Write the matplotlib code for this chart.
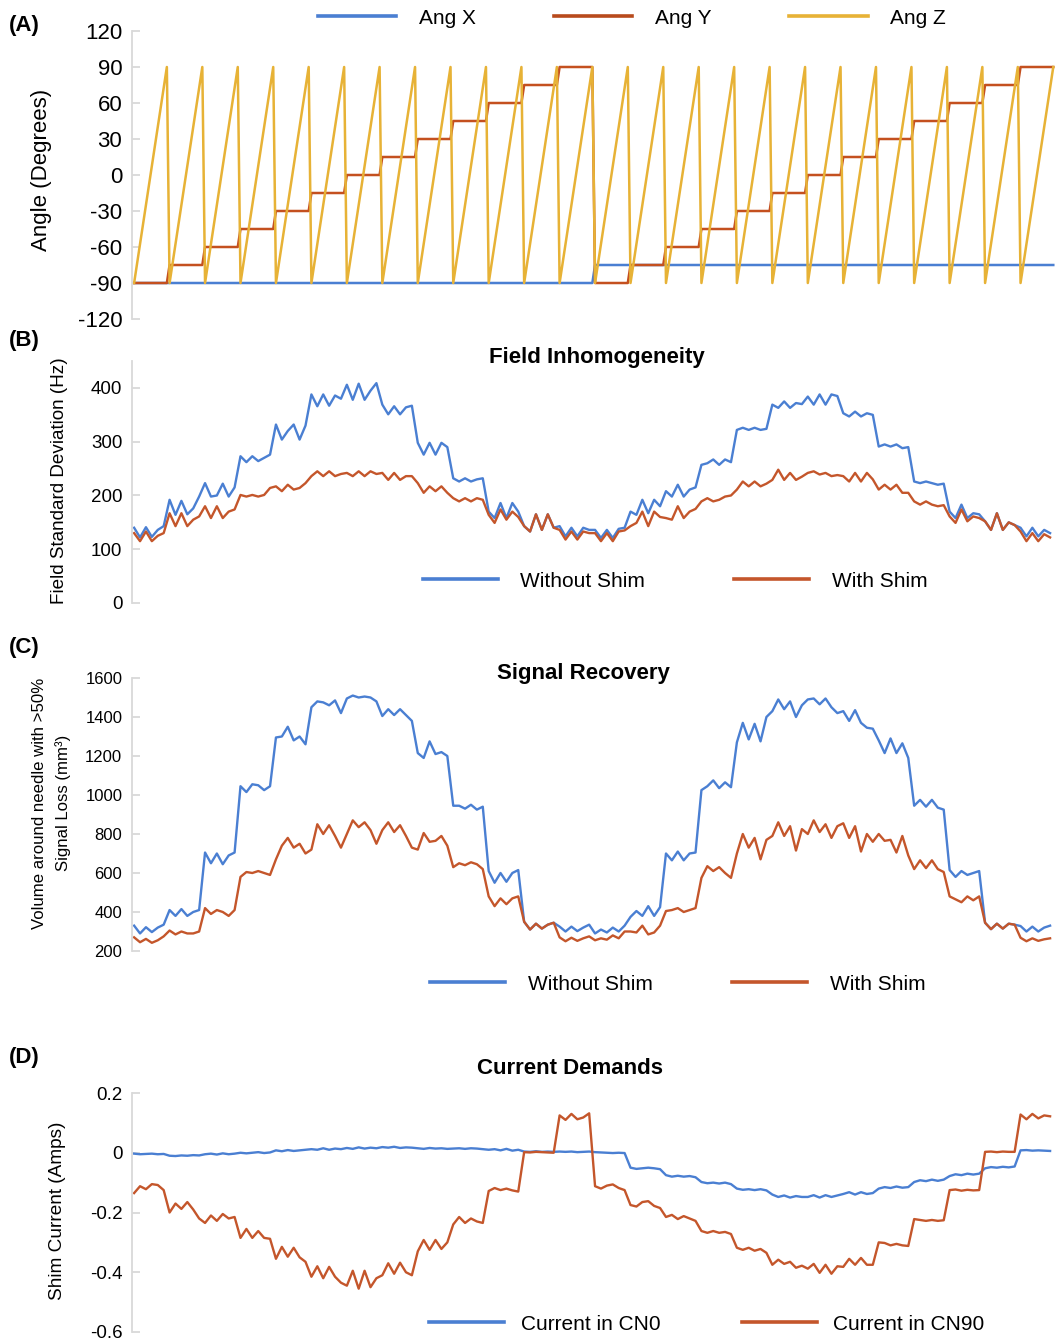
import matplotlib.pyplot as plt
import numpy as np
from matplotlib.lines import Line2D

plt.rcParams['font.family'] = ['Liberation Sans', 'DejaVu Sans']
plt.rcParams['axes.unicode_minus'] = False

W, H = 1056, 1340
BLUE = '#4a7fd2'
RED = '#c4562b'
YELLOW = '#e7b236'
GREY = '#d9d9d9'

# ---- panel A: rotation schedule ----
z_sweep = [-90, -75, -60, -45, -30, -15, 0, 15, 30, 45, 60, 75, 90]
y_levels = [-90, -75, -60, -45, -30, -15, 0, 15, 30, 45, 60, 75, 90,
            -90, -75, -60, -45, -30, -15, 0, 15, 30, 45, 60, 75, 90]
x_levels = [-90, -75]

# ---- panel B: field std (Hz), 6 readings per orientation step ----
field_without = [
    140, 122, 141, 123, 136, 143,  192, 164, 190, 165, 176, 198,
    223, 198, 200, 222, 198, 215,  273, 262, 273, 264, 270, 276,
    332, 304, 320, 332, 304, 330,  388, 366, 388, 367, 386, 380,
    406, 378, 408, 378, 395, 409,  369, 351, 366, 351, 364, 367,
    298, 276, 298, 276, 298, 290,  232, 226, 232, 226, 230, 232,
    170, 158, 186, 158, 186, 170,  143, 133, 165, 136, 165, 140,
    143, 124, 140, 124, 140, 136,  136, 121, 136, 121, 138, 140,
    170, 164, 192, 167, 192, 180,  208, 198, 220, 198, 211, 215,
    257, 260, 267, 257, 267, 262,  322, 326, 322, 326, 322, 324,
    369, 363, 375, 363, 372, 370,  384, 369, 388, 369, 388, 385,
    353, 347, 356, 347, 353, 350,  291, 295, 291, 295, 288, 290,
    226, 223, 226, 223, 220, 222,  170, 158, 183, 158, 167, 165,
    152, 136, 167, 136, 150, 145,  140, 124, 140, 124, 136, 130]
field_with = [
    130, 115, 133, 115, 125, 130,  167, 143, 167, 143, 155, 161,
    180, 158, 180, 158, 170, 174,  201, 198, 201, 198, 201, 214,
    217, 208, 220, 211, 214, 223,  236, 245, 236, 245, 236, 240,
    242, 236, 245, 236, 245, 240,  242, 229, 242, 229, 236, 236,
    223, 205, 217, 208, 217, 205,  195, 189, 195, 189, 195, 192,
    164, 149, 174, 155, 170, 160,  143, 133, 165, 136, 165, 140,
    136, 118, 133, 118, 133, 130,  130, 115, 130, 115, 133, 135,
    143, 149, 170, 143, 170, 160,  158, 155, 180, 158, 170, 175,
    189, 195, 189, 192, 198, 200,  211, 226, 217, 226, 217, 222,
    229, 248, 229, 242, 229, 235,  242, 245, 239, 242, 236, 238,
    236, 226, 242, 226, 242, 230,  211, 220, 211, 220, 205, 205,
    189, 183, 189, 183, 180, 182,  161, 149, 174, 152, 161, 158,
    152, 136, 167, 136, 150, 145,  133, 115, 130, 115, 128, 122]

# ---- panel C: signal loss volume (mm^3) ----
vol_without = [
    330, 290, 322, 297, 320, 335,  410, 380, 415, 380, 400, 410,
    705, 650, 700, 645, 690, 705,  1045, 1015, 1055, 1050, 1025, 1045,
    1295, 1300, 1350, 1280, 1300, 1260,  1450, 1480, 1475, 1460, 1485, 1420,
    1495, 1510, 1500, 1505, 1500, 1480,  1405, 1440, 1410, 1440, 1410, 1380,
    1215, 1190, 1275, 1210, 1220, 1200,  945, 945, 930, 950, 925, 940,
    610, 550, 600, 555, 600, 615,  350, 310, 340, 315, 335, 345,
    325, 300, 325, 302, 320, 335,  290, 310, 295, 320, 300, 330,
    375, 405, 380, 430, 380, 425,  700, 665, 710, 665, 700, 705,
    1025, 1045, 1075, 1035, 1065, 1040,  1270, 1370, 1285, 1365, 1275, 1400,
    1430, 1490, 1440, 1480, 1400, 1460,  1490, 1495, 1465, 1495, 1450, 1420,
    1430, 1380, 1435, 1370, 1345, 1340,  1280, 1215, 1290, 1215, 1265, 1190,
    945, 975, 940, 975, 935, 925,  615, 580, 610, 590, 600, 610,
    345, 312, 340, 315, 340, 335,  328, 300, 325, 300, 320, 330]
vol_with = [
    270, 245, 262, 242, 255, 275,  305, 285, 300, 290, 290, 300,
    420, 390, 410, 400, 380, 410,  580, 605, 600, 610, 600, 590,
    670, 740, 780, 730, 750, 700,  720, 850, 800, 845, 790, 730,
    800, 870, 835, 860, 820, 750,  820, 860, 810, 845, 790, 730,
    720, 805, 760, 765, 790, 740,  630, 650, 640, 655, 645, 620,
    480, 430, 470, 440, 470, 480,  350, 310, 340, 315, 335, 345,
    270, 250, 268, 252, 265, 275,  255, 265, 258, 280, 265, 300,
    300, 295, 330, 285, 295, 330,  405, 410, 420, 400, 410, 420,
    575, 635, 610, 630, 600, 575,  700, 800, 730, 780, 670, 770,
    790, 860, 790, 840, 715, 825,  800, 870, 810, 850, 780, 840,
    855, 780, 840, 710, 800, 760,  800, 765, 770, 705, 790, 690,
    620, 665, 625, 665, 620, 605,  480, 465, 450, 480, 460, 480,
    345, 312, 340, 315, 340, 335,  268, 250, 265, 252, 260, 265]

# ---- panel D: shim currents (A) ----
cur_cn0 = [
    -0.003, -0.005, -0.004, -0.003, -0.005, -0.004,  -0.010, -0.011, -0.009, -0.010, -0.008, -0.009,
    -0.005, -0.003, -0.006, -0.002, -0.005, -0.003,  0.000, -0.002, 0.000, 0.002, -0.001, 0.001,
    0.008, 0.005, 0.009, 0.006, 0.008, 0.010,  0.012, 0.010, 0.015, 0.010, 0.014, 0.012,
    0.016, 0.013, 0.018, 0.014, 0.017, 0.015,  0.019, 0.017, 0.020, 0.016, 0.018, 0.017,
    0.015, 0.013, 0.016, 0.014, 0.015, 0.013,  0.014, 0.015, 0.013, 0.015, 0.014, 0.012,
    0.010, 0.012, 0.008, 0.013, 0.007, 0.010,  0.004, 0.003, 0.005, 0.003, 0.004, 0.003,
    0.004, 0.003, 0.004, 0.002, 0.003, 0.004,  0.002, 0.001, 0.000, -0.001, 0.000, -0.001,
    -0.050, -0.054, -0.052, -0.050, -0.052, -0.055,  -0.075, -0.080, -0.077, -0.080, -0.078, -0.082,
    -0.098, -0.102, -0.100, -0.103, -0.100, -0.105,  -0.120, -0.124, -0.122, -0.125, -0.122, -0.126,
    -0.140, -0.148, -0.143, -0.150, -0.145, -0.148,  -0.148, -0.142, -0.150, -0.142, -0.148, -0.143,
    -0.138, -0.132, -0.140, -0.132, -0.138, -0.135,  -0.120, -0.115, -0.118, -0.113, -0.117, -0.115,
    -0.098, -0.092, -0.095, -0.090, -0.094, -0.090,  -0.078, -0.072, -0.075, -0.070, -0.073, -0.070,
    -0.052, -0.048, -0.050, -0.047, -0.049, -0.046,  0.008, 0.009, 0.007, 0.008, 0.007, 0.006]
cur_cn90 = [
    -0.135, -0.112, -0.122, -0.105, -0.108, -0.125,  -0.200, -0.170, -0.188, -0.165, -0.190, -0.220,
    -0.235, -0.210, -0.228, -0.205, -0.220, -0.215,  -0.285, -0.255, -0.285, -0.262, -0.285, -0.288,
    -0.355, -0.315, -0.348, -0.318, -0.350, -0.365,  -0.415, -0.380, -0.420, -0.382, -0.415, -0.435,
    -0.445, -0.395, -0.455, -0.395, -0.450, -0.420,  -0.410, -0.370, -0.405, -0.368, -0.400, -0.410,
    -0.330, -0.292, -0.325, -0.292, -0.322, -0.300,  -0.240, -0.215, -0.235, -0.220, -0.230, -0.235,
    -0.128, -0.118, -0.125, -0.120, -0.126, -0.130,  0.002, 0.001, 0.003, 0.002, 0.001, 0.000,
    0.125, 0.110, 0.130, 0.112, 0.118, 0.132,  -0.112, -0.120, -0.110, -0.106, -0.118, -0.125,
    -0.175, -0.180, -0.165, -0.162, -0.178, -0.185,  -0.215, -0.208, -0.222, -0.212, -0.220, -0.228,
    -0.262, -0.268, -0.262, -0.268, -0.265, -0.272,  -0.318, -0.325, -0.318, -0.328, -0.322, -0.335,
    -0.375, -0.358, -0.372, -0.365, -0.385, -0.378,  -0.388, -0.372, -0.402, -0.375, -0.405, -0.380,
    -0.382, -0.355, -0.375, -0.352, -0.375, -0.375,  -0.300, -0.302, -0.310, -0.305, -0.310, -0.312,
    -0.222, -0.225, -0.228, -0.225, -0.228, -0.226,  -0.125, -0.123, -0.127, -0.124, -0.126, -0.125,
    0.003, 0.004, 0.002, 0.004, 0.003, 0.003,  0.128, 0.112, 0.130, 0.115, 0.125, 0.122]

ang_z = np.tile(z_sweep, len(y_levels))
ang_y = np.repeat(y_levels, len(z_sweep))
ang_x = np.repeat(x_levels, len(ang_z) // len(x_levels))
t_a = np.arange(len(ang_z)) / len(z_sweep)
t = np.arange(len(field_without)) / 6.0


def style(ax, size):
    for s in ['top', 'right', 'bottom']:
        ax.spines[s].set_visible(False)
    ax.spines['left'].set_color(GREY)
    ax.spines['left'].set_linewidth(1.3)
    ax.tick_params(axis='y', direction='in', length=6, color=GREY, width=1.3,
                   pad=7, labelsize=size)
    ax.set_xticks([])
    ax.set_xlim(-0.06, 26.0)
    ax.patch.set_alpha(0)


def legend(ax, labels, colors, cx, cy, colsp, hl=3.6, tp=1.1):
    hs = [Line2D([], [], color=c, lw=2.6) for c in colors]
    ax.legend(hs, labels, ncol=len(labels), loc='center',
              bbox_to_anchor=(cx / W, 1 - cy / H), bbox_transform=fig.transFigure,
              frameon=False, fontsize=15, handlelength=hl, handletextpad=tp,
              columnspacing=colsp, borderpad=0, borderaxespad=0)


def ftext(x, y, s, **kw):
    fig.text(x / W, 1 - y / H, s, va='center', **kw)


fig = plt.figure(figsize=(W / 100, H / 100), dpi=100)
lw = dict(lw=1.7, solid_joinstyle='round')

# (A)
axA = fig.add_axes([132 / W, 1 - 319 / H, 924 / W, 288 / H])
axA.plot(t_a, ang_x, color=BLUE, lw=1.8)
axA.plot(t_a, ang_y, color='#c4501f', lw=1.8)
axA.plot(t_a, ang_z, color=YELLOW, lw=1.8)
axA.set_ylim(-120, 120)
axA.set_yticks(np.arange(-120, 121, 30))
style(axA, 16)
legend(axA, ['Ang X', 'Ang Y', 'Ang Z'], [BLUE, '#b84a1c', YELLOW], 632, 18, 3.75, hl=3.75)

# (B)
axB = fig.add_axes([132 / W, 1 - 603 / H, 924 / W, 241.9 / H])
axB.plot(t, field_without, color=BLUE, **lw)
axB.plot(t, field_with, color=RED, **lw)
axB.set_ylim(0, 450)
axB.set_yticks([0, 100, 200, 300, 400])
style(axB, 13.5)
legend(axB, ['Without Shim', 'With Shim'], [BLUE, RED], 675, 581, 4.25)

# (C)
axC = fig.add_axes([132 / W, 1 - 951 / H, 924 / W, 273 / H])
axC.plot(t, vol_without, color=BLUE, **lw)
axC.plot(t, vol_with, color=RED, **lw)
axC.set_ylim(200, 1600)
axC.set_yticks(np.arange(200, 1601, 200))
style(axC, 12)
legend(axC, ['Without Shim', 'With Shim'], [BLUE, RED], 678, 984, 3.8)

# (D)
axD = fig.add_axes([132 / W, 1 - 1332 / H, 924 / W, 239 / H])
axD.plot(t, cur_cn0, color=BLUE, **lw)
axD.plot(t, cur_cn90, color=RED, **lw)
axD.set_ylim(-0.6, 0.2)
axD.set_yticks([-0.6, -0.4, -0.2, 0, 0.2])
axD.set_yticklabels(['-0.6', '-0.4', '-0.2', '0', '0.2'])
style(axD, 13.5)
legend(axD, ['Current in CN0', 'Current in CN90'], [BLUE, RED], 707, 1324, 3.9, tp=0.8)

# panel letters, titles, axis labels
for lab, y in [('(A)', 25), ('(B)', 340), ('(C)', 648), ('(D)', 1057)]:
    ftext(9, y, lab, fontsize=16, fontweight='bold', ha='left')
for s, x, y in [('Field Inhomogeneity', 597, 357), ('Signal Recovery', 583, 673),
                ('Current Demands', 570, 1069)]:
    ftext(x, y, s, fontsize=16, fontweight='bold', ha='center')
ftext(42, 170, 'Angle (Degrees)', fontsize=16, rotation=90, ha='center')
ftext(59, 481, 'Field Standard Deviation (Hz)', fontsize=13.6, rotation=90, ha='center')
ftext(40, 803, 'Volume around needle with >50%', fontsize=12.1, rotation=90, ha='center')
ftext(63, 803, 'Signal Loss (mm³)', fontsize=12.1, rotation=90, ha='center')
ftext(58, 1211, 'Shim Current (Amps)', fontsize=13.7, rotation=90, ha='center')

fig.savefig('out.png', dpi=100)
